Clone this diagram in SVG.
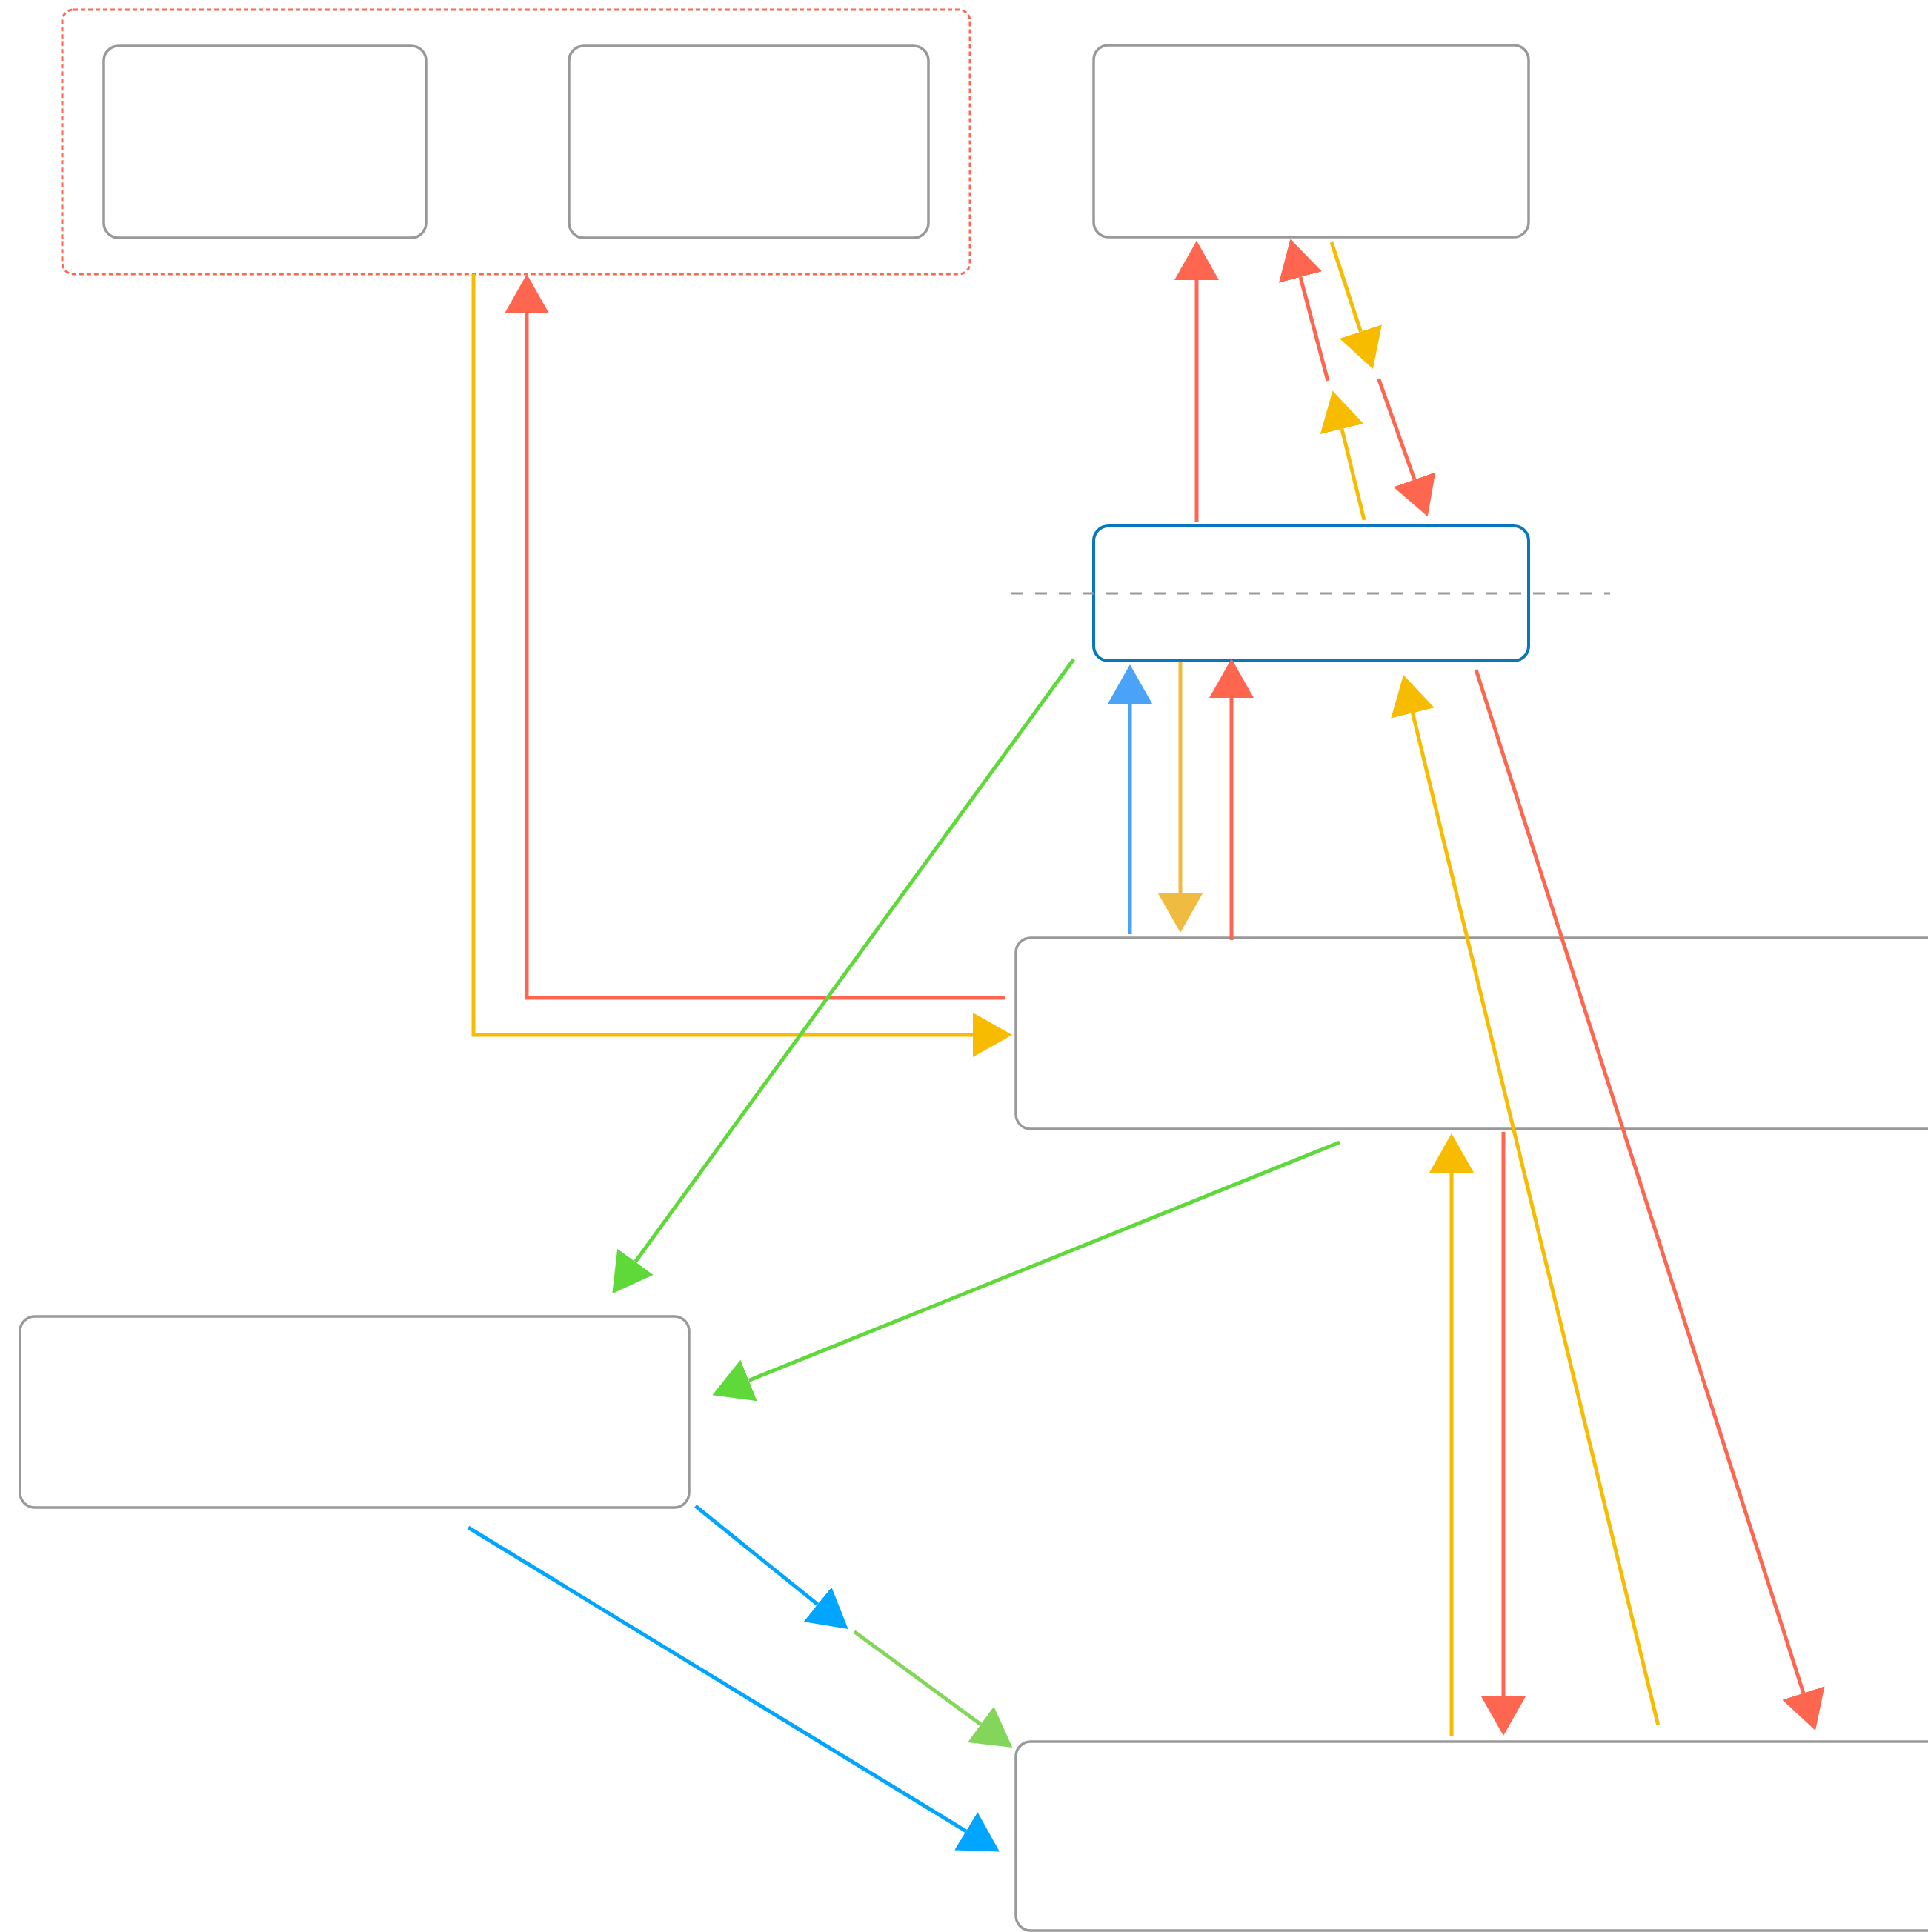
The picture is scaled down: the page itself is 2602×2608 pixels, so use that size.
<svg xmlns="http://www.w3.org/2000/svg" width="2602" height="2608" viewBox="0 0 2602 2608">
<style>
.node{fill:#fff;stroke:#999;stroke-width:3.5}
.sel{fill:#fff;stroke:#0a77bd;stroke-width:4}
.grp{fill:none;stroke:#ff6650;stroke-width:3;stroke-dasharray:6 4}
.c{fill:none;stroke-width:5}
.r{stroke:#ff6650;marker-end:url(#mr)}
.y{stroke:#f7bb00;marker-end:url(#my)}
.m{stroke:#efbb40;marker-end:url(#mm)}
.b1{stroke:#4aa3f7;marker-end:url(#mb1)}
.b2{stroke:#00a5ff;marker-end:url(#mb2)}
.g{stroke:#5fd93a;marker-end:url(#mg)}
.lg{stroke:#84d65a;marker-end:url(#mlg)}
</style>
<defs>
<marker id="mr" viewBox="0 0 53 60" refX="0" refY="30" markerWidth="53" markerHeight="60" markerUnits="userSpaceOnUse" orient="auto"><path d="M0,0 L53,30 L0,60 Z" fill="#ff6650"/></marker>
<marker id="my" viewBox="0 0 53 60" refX="0" refY="30" markerWidth="53" markerHeight="60" markerUnits="userSpaceOnUse" orient="auto"><path d="M0,0 L53,30 L0,60 Z" fill="#f7bb00"/></marker>
<marker id="mm" viewBox="0 0 53 60" refX="0" refY="30" markerWidth="53" markerHeight="60" markerUnits="userSpaceOnUse" orient="auto"><path d="M0,0 L53,30 L0,60 Z" fill="#efbb40"/></marker>
<marker id="mb1" viewBox="0 0 53 60" refX="0" refY="30" markerWidth="53" markerHeight="60" markerUnits="userSpaceOnUse" orient="auto"><path d="M0,0 L53,30 L0,60 Z" fill="#4aa3f7"/></marker>
<marker id="mb2" viewBox="0 0 53 60" refX="0" refY="30" markerWidth="53" markerHeight="60" markerUnits="userSpaceOnUse" orient="auto"><path d="M0,0 L53,30 L0,60 Z" fill="#00a5ff"/></marker>
<marker id="mg" viewBox="0 0 53 60" refX="0" refY="30" markerWidth="53" markerHeight="60" markerUnits="userSpaceOnUse" orient="auto"><path d="M0,0 L53,30 L0,60 Z" fill="#5fd93a"/></marker>
<marker id="mlg" viewBox="0 0 53 60" refX="0" refY="30" markerWidth="53" markerHeight="60" markerUnits="userSpaceOnUse" orient="auto"><path d="M0,0 L53,30 L0,60 Z" fill="#84d65a"/></marker>
</defs>
<rect width="2602" height="2608" fill="#fff"/>
<g id="group-top-left">
<rect class="grp" x="84" y="13" width="1225" height="357" rx="15"/>
</g>
<g id="node-a"><rect class="node" x="140" y="62" width="435" height="259" rx="20"/></g>
<g id="node-b"><rect class="node" x="768" y="62" width="485" height="259" rx="20"/></g>
<g id="node-c"><rect class="node" x="1476" y="61" width="587" height="259" rx="20"/></g>
<g id="node-selected">
<rect class="sel" x="1476" y="710" width="587" height="182" rx="20"/>
<line x1="1365" y1="801" x2="2173" y2="801" stroke="#999" stroke-width="3" stroke-dasharray="16 16"/>
</g>
<g id="node-d"><rect class="node" x="1371" y="1266" width="1250" height="258" rx="20"/></g>
<g id="node-e"><rect class="node" x="27" y="1777" width="903" height="258" rx="20"/></g>
<g id="node-f"><rect class="node" x="1371" y="2351" width="1250" height="255" rx="20"/></g>
<g id="connectors">
<line class="c r" x1="1615" y1="705" x2="1615" y2="378"/>
<line class="c r" x1="1792" y1="514" x2="1755" y2="374"/>
<line class="c y" x1="1797" y1="327" x2="1836.4" y2="447.6"/>
<line class="c y" x1="1841" y1="702" x2="1811" y2="579"/>
<line class="c r" x1="1860.5" y1="511" x2="1909" y2="647.4"/>
<line class="c b1" x1="1525" y1="1261" x2="1525" y2="950"/>
<line class="c m" x1="1593" y1="894" x2="1593" y2="1206"/>
<line class="c r" x1="1662" y1="1269" x2="1662" y2="942"/>
<line class="c y" x1="2237.6" y1="2328" x2="1906.5" y2="962.5"/>
<line class="c r" x1="1992" y1="904" x2="2433.9" y2="2285.5"/>
<polyline class="c r" points="1357,1347 711,1347 711,423"/>
<polyline class="c y" points="639,370 639,1397 1313,1397"/>
<line class="c g" x1="1449" y1="890" x2="857.5" y2="1703.3"/>
<line class="c g" x1="1808" y1="1542" x2="1010.5" y2="1863.5"/>
<line class="c y" x1="1959" y1="2344" x2="1959" y2="1583"/>
<line class="c r" x1="2029" y1="1528" x2="2029" y2="2290"/>
<line class="c b2" x1="632" y1="2062" x2="1303.7" y2="2471.8"/>
<line class="c b2" x1="938.6" y1="2033" x2="1103.4" y2="2165.8"/>
<line class="c lg" x1="1152.8" y1="2202.4" x2="1323.6" y2="2327.7"/>
</g>
</svg>
